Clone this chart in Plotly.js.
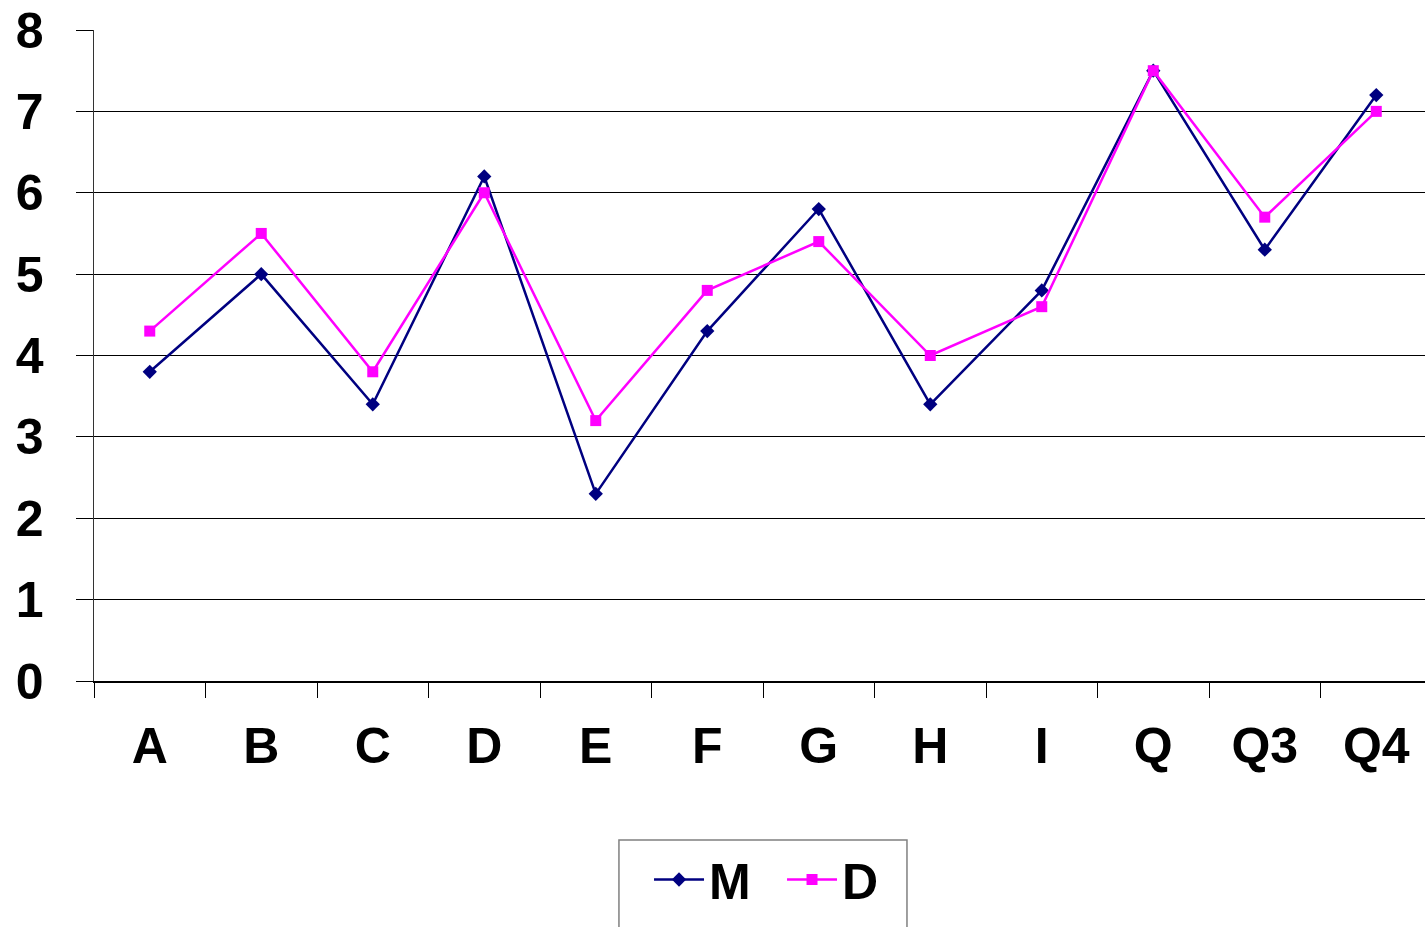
<!DOCTYPE html>
<html>
<head>
<meta charset="utf-8">
<script src="https://cdn.plot.ly/plotly-3.0.1.min.js"></script>
<style>
html,body{margin:0;padding:0;overflow:hidden;background:#fff;}
#chart{width:1425px;height:927px;}
</style>
</head>
<body>
<div id="chart"></div>
<script>
const categories = ["A","B","C","D","E","F","G","H","I","Q","Q3","Q4"];
const seriesM = [3.8,5.0,3.4,6.2,2.3,4.3,5.8,3.4,4.8,7.5,5.3,7.2];
const seriesD = [4.3,5.5,3.8,6.0,3.2,4.8,5.4,4.0,4.6,7.5,5.7,7.0];
const yTicks = [0,1,2,3,4,5,6,7,8];

const fam = "Liberation Sans, Arial, sans-serif";

const traces = [
  {x: categories, y: seriesM, name: "M", type: "scatter", mode: "lines+markers",
   line: {color: "#000080", width: 2.5},
   marker: {symbol: "diamond", size: 11, color: "#000080"}},
  {x: categories, y: seriesD, name: "D", type: "scatter", mode: "lines+markers",
   line: {color: "#FF00FF", width: 2.5},
   marker: {symbol: "square", size: 11, color: "#FF00FF"}}
];

const layout = {
  width: 1425, height: 927,
  margin: {l: 94, r: 0, t: 30, b: 246},
  paper_bgcolor: "#fff", plot_bgcolor: "#fff",
  font: {family: fam, size: 48, color: "#000"},
  showlegend: true,
  legend: {
    orientation: "h", x: 0.417, xanchor: "left", y: -0.245, yanchor: "top",
    bgcolor: "rgba(0,0,0,0)", borderwidth: 0,
    font: {family: fam, size: 50, color: "#000", weight: "bold"},
    itemwidth: 50, entrywidth: 68, entrywidthmode: "pixels", tracegroupgap: 0
  },
  shapes: [{
    type: "rect", xref: "paper", yref: "paper",
    x0: 0.3944, x1: 0.6108, y0: -0.2442, y1: -0.45,
    line: {color: "#808080", width: 1.5}, fillcolor: "rgba(0,0,0,0)", layer: "below"
  }],
  xaxis: {
    type: "category", categoryarray: categories,
    range: [-0.5, 11.437],
    showline: true, linecolor: "#000", linewidth: 1.5,
    showgrid: false, zeroline: false,
    ticks: "outside", tickson: "boundaries", ticklen: 15, tickcolor: "#000", tickwidth: 1,
    ticklabelstandoff: 20,
    tickfont: {family: fam, size: 50, color: "#000", weight: "bold"}
  },
  yaxis: {
    range: [0, 8], tickvals: yTicks,
    showline: true, linecolor: "#333", linewidth: 1.5,
    showgrid: true, gridcolor: "#000", gridwidth: 1,
    zeroline: false,
    ticks: "outside", ticklen: 17, tickcolor: "#000", tickwidth: 1,
    ticklabelstandoff: 22,
    tickfont: {family: fam, size: 50, color: "#000", weight: "bold"}
  }
};

Plotly.newPlot("chart", traces, layout, {displayModeBar: false, staticPlot: true});
</script>
</body>
</html>
